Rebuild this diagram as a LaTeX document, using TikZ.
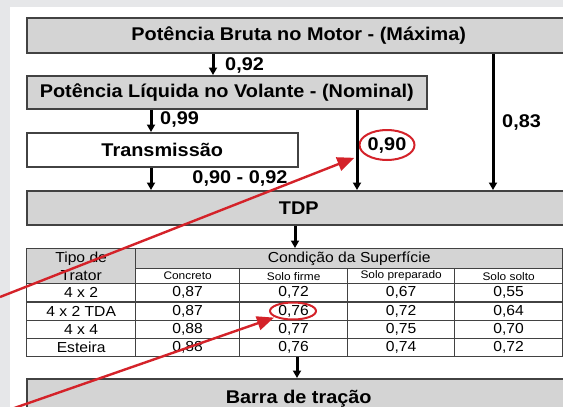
\documentclass[tikz,border=0pt]{standalone}
\usepackage{fontspec}
\setmainfont{Liberation Sans}[FakeStretch=1.08]
\usetikzlibrary{arrows.meta, positioning, shapes.geometric}
\definecolor{fundo}{HTML}{E6E7E9}
\definecolor{cinza}{HTML}{D4D4D4}
\definecolor{borda}{HTML}{424242}
\definecolor{vermelho}{HTML}{D42229}
\tikzset{
    caixa/.style={draw=borda, line width=1.5pt, fill=cinza, anchor=north west, inner sep=0pt,
        font=\fontsize{18.4}{20}\selectfont\bfseries}, % the wide boxes
    rotulo/.style={font=\fontsize{18.4}{20}\selectfont\bfseries, inner sep=0pt}, % the factors
    seta/.style={-{Triangle[length=7.5pt, width=8pt]}, line width=3pt}, % black arrows
    celula/.style={draw=borda, line width=1.3pt, anchor=north west, inner sep=0pt,
        font=\fontsize{14.5}{16}\selectfont}, % table cells
    destaque/.style={draw=vermelho, line width=2pt, ellipse, inner sep=0pt}, % red rings
    setav/.style={draw=vermelho, -{Triangle[length=17pt, width=14pt]}, line width=2.4pt}, % red arrows
}

\begin{document}
\begin{tikzpicture}[x=1pt, y=-1pt]
    \useasboundingbox (0,0) rectangle (563,407);
    \clip (0,0) rectangle (563,407);
    \fill[fundo] (0,0) rectangle (563,407);
    \fill[white] (10,7) rectangle (570,420);

    \node[caixa, minimum width=544pt, minimum height=35pt] (bruta) at (26,17) {Potência Bruta no Motor - (Máxima)};
    \node[caixa, minimum width=400pt, minimum height=33pt] (liquida) at (26,75) {Potência Líquida no Volante - (Nominal)};
    \node[caixa, fill=white, minimum width=271pt, minimum height=34pt] (trans) at (26,132) {Transmissão};
    \node[caixa, minimum width=544pt, minimum height=34pt] (tdp) at (26,190) {TDP};
    \node[caixa, minimum width=544pt, minimum height=40pt] (barra) at (26,378) {Barra de tração};

    % tabela
    \node[celula, fill=cinza, minimum width=109pt, minimum height=35pt, align=center,
        font=\fontsize{14.5}{17.5}\selectfont] (tipo) at (26,248) {Tipo de\\Trator};
    \node[celula, fill=cinza, minimum width=427pt, minimum height=20pt] (cond) at (135,248) {Condição da Superfície};
    \node[celula, font=\fontsize{11}{12}\selectfont, minimum width=104pt, minimum height=15pt] (s1) at (135,268) {Concreto};
    \node[celula, font=\fontsize{11}{12}\selectfont, minimum width=108pt, minimum height=15pt] (s2) at (239,268) {Solo firme};
    \node[celula, font=\fontsize{11}{12}\selectfont, minimum width=107pt, minimum height=15pt] (s3) at (347,268) {Solo preparado};
    \node[celula, font=\fontsize{11}{12}\selectfont, minimum width=108pt, minimum height=15pt] (s4) at (454,268) {Solo solto};
    \foreach \tipo/\a/\b/\c/\d [count=\i] in {{4 x 2}/{0,87}/{0,72}/{0,67}/{0,55},
            {4 x 2 TDA}/{0,87}/{0,76}/{0,72}/{0,64},
            {4 x 4}/{0,88}/{0,77}/{0,75}/{0,70},
            {Esteira}/{0,88}/{0,76}/{0,74}/{0,72}}{
        \pgfmathsetmacro\yy{283+18.25*(\i-1)}
        \node[celula, minimum width=109pt, minimum height=18.25pt] (r\i-0) at (26,\yy) {\tipo};
        \node[celula, minimum width=104pt, minimum height=18.25pt] (r\i-1) at (135,\yy) {\a};
        \node[celula, minimum width=108pt, minimum height=18.25pt] (r\i-2) at (239,\yy) {\b};
        \node[celula, minimum width=107pt, minimum height=18.25pt] (r\i-3) at (347,\yy) {\c};
        \node[celula, minimum width=108pt, minimum height=18.25pt] (r\i-4) at (454,\yy) {\d};
    }

    \node[rotulo, anchor=west] (f092) at (225,65) {0,92};
    \node[rotulo, anchor=west] (f099) at (160,119) {0,99};
    \node[rotulo, anchor=west] (f083) at (502,122) {0,83};
    \node[rotulo] (f0992) at (240,178) {0,90 - 0,92};
    \node[rotulo, destaque, minimum width=55pt, minimum height=30pt] (f090) at (387,145) {0,90};
    \node[destaque, minimum width=46pt, minimum height=17pt] (marca) at (293,311) {};

    \draw
    (bruta.south -| 213,0) edge[seta] (liquida.north -| 213,0)
    (liquida.south -| 151,0) edge[seta] (trans.north -| 151,0)
    (trans.south -| 151,0) edge[seta] (tdp.north -| 151,0)
    (liquida.south -| 357,0) edge[seta] (tdp.north -| 357,0)
    (bruta.south -| 493,0) edge[seta] (tdp.north -| 493,0)
    (tdp.south -| 295,0) edge[seta] (cond.north -| 295,0)
    (r4-2.south -| 297,0) edge[seta] (barra.north -| 297,0);

    \coordinate (o1) at (0,297);
    \coordinate (o2) at (0,413);
    \draw[setav, shorten >=10pt] (o1) -- (f090);
    \draw[setav, shorten >=1pt] (o2) -- (marca);
\end{tikzpicture}
\end{document}
